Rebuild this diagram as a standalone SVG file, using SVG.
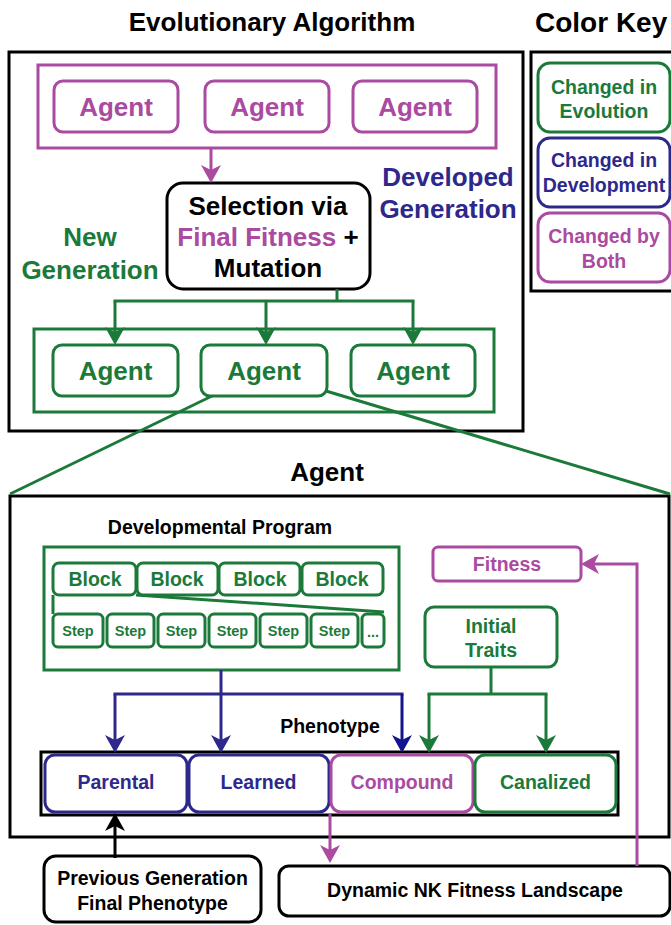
<svg xmlns="http://www.w3.org/2000/svg" width="671" height="925" viewBox="0 0 671 925">
<defs>
<style>
text{font-family:"Liberation Sans",Arial,sans-serif;font-weight:bold;text-anchor:middle}
.big{font-size:26px}
.sm{font-size:19.5px}
.st{font-size:14.5px}
.k{fill:#000}
.g{fill:#1b7a3a}
.p{fill:#2e288c}
.m{fill:#aa4aa0}
.bx{fill:#fff;stroke-width:3}
.sk{stroke:#000}
.sg{stroke:#1b7a3a}
.sp{stroke:#2e288c}
.sm2{stroke:#aa4aa0}
.ln{fill:none;stroke-width:3}
</style>
<marker id="aG" viewBox="0 0 18 20" refX="8" refY="10" markerWidth="18" markerHeight="20" markerUnits="userSpaceOnUse" orient="auto"><path d="M0,0 L18,10 L0,20 L5,10 z" fill="#1b7a3a"/></marker>
<marker id="aP" viewBox="0 0 18 20" refX="8" refY="10" markerWidth="18" markerHeight="20" markerUnits="userSpaceOnUse" orient="auto"><path d="M0,0 L18,10 L0,20 L5,10 z" fill="#2e288c"/></marker>
<marker id="aN" viewBox="0 0 18 20" refX="8" refY="10" markerWidth="18" markerHeight="20" markerUnits="userSpaceOnUse" orient="auto"><path d="M0,0 L18,10 L0,20 L5,10 z" fill="#14148c"/></marker>
<marker id="aM" viewBox="0 0 18 20" refX="8" refY="10" markerWidth="18" markerHeight="20" markerUnits="userSpaceOnUse" orient="auto"><path d="M0,0 L18,10 L0,20 L5,10 z" fill="#aa4aa0"/></marker>
<marker id="aK" viewBox="0 0 18 20" refX="8" refY="10" markerWidth="18" markerHeight="20" markerUnits="userSpaceOnUse" orient="auto"><path d="M0,0 L18,10 L0,20 L5,10 z" fill="#000"/></marker>
</defs>
<rect width="671" height="925" fill="#fff"/>

<text class="big k" x="272" y="31">Evolutionary Algorithm</text>
<text class="k" x="535" y="32" style="font-size:28px;text-anchor:start">Color Key</text>

<g id="ea-box"><rect class="bx sk" x="9" y="52" width="514" height="379"/></g>

<g id="color-key">
<rect class="bx sk" x="531" y="52" width="145" height="239"/>
<rect class="bx sg" x="538" y="63" width="132" height="69" rx="12"/>
<text class="sm g" x="604" y="94">Changed in</text>
<text class="sm g" x="604" y="118">Evolution</text>
<rect class="bx sp" x="538" y="138" width="132" height="69" rx="12"/>
<text class="sm p" x="604" y="167">Changed in</text>
<text class="sm p" x="604" y="192">Development</text>
<rect class="bx sm2" x="538" y="213" width="132" height="69" rx="12"/>
<text class="sm m" x="604" y="243">Changed by</text>
<text class="sm m" x="604" y="268">Both</text>
</g>

<g id="developed-generation">
<rect class="bx sm2" x="38" y="65" width="458" height="83"/>
<rect class="bx sm2" x="54" y="81" width="124" height="51" rx="9"/>
<text class="big m" x="116" y="116">Agent</text>
<rect class="bx sm2" x="205" y="81" width="124" height="51" rx="9"/>
<text class="big m" x="267" y="116">Agent</text>
<rect class="bx sm2" x="353" y="81" width="124" height="51" rx="9"/>
<text class="big m" x="415" y="116">Agent</text>
</g>
<text class="big p" x="448" y="186">Developed</text>
<text class="big p" x="448" y="218">Generation</text>
<text class="big g" x="90" y="246">New</text>
<text class="big g" x="90" y="279">Generation</text>

<g id="selection">
<rect class="bx sk" x="167" y="183" width="203" height="106" rx="16"/>
<text class="big k" x="268" y="215">Selection via</text>
<text class="big k" x="268" y="246"><tspan class="m">Final Fitness</tspan> +</text>
<text class="big k" x="268" y="277">Mutation</text>
</g>

<g id="new-generation">
<rect class="bx sg" x="34" y="329" width="460" height="83"/>
<rect class="bx sg" x="53" y="345" width="125" height="51" rx="9"/>
<text class="big g" x="115.5" y="380">Agent</text>
<rect class="bx sg" x="201" y="345" width="126" height="51" rx="9"/>
<text class="big g" x="264" y="380">Agent</text>
<rect class="bx sg" x="351" y="345" width="124" height="51" rx="9"/>
<text class="big g" x="413" y="380">Agent</text>
</g>

<text class="big k" x="327" y="481">Agent</text>

<g id="agent-box"><rect class="bx sk" x="10" y="496" width="659" height="341"/></g>

<g id="developmental-program">
<text class="sm k" x="220" y="534">Developmental Program</text>
<rect class="bx sg" x="44" y="547" width="355" height="123"/>
<rect class="bx sg" x="53" y="563" width="83" height="32" rx="6"/>
<text class="sm g" x="95" y="586">Block</text>
<rect class="bx sg" x="137" y="563" width="81" height="32" rx="6"/>
<text class="sm g" x="177" y="586">Block</text>
<rect class="bx sg" x="219" y="563" width="81" height="32" rx="6"/>
<text class="sm g" x="260" y="586">Block</text>
<rect class="bx sg" x="302" y="563" width="81" height="32" rx="6"/>
<text class="sm g" x="342" y="586">Block</text>
<path class="ln sg" d="M53,595 V614 M136,595 L384,612"/>
<rect class="bx sg" x="53" y="614" width="50" height="33" rx="5"/>
<text class="st g" x="78" y="636">Step</text>
<rect class="bx sg" x="107" y="614" width="47" height="33" rx="5"/>
<text class="st g" x="130.5" y="636">Step</text>
<rect class="bx sg" x="158" y="614" width="47" height="33" rx="5"/>
<text class="st g" x="181.5" y="636">Step</text>
<rect class="bx sg" x="209" y="614" width="47" height="33" rx="5"/>
<text class="st g" x="232.5" y="636">Step</text>
<rect class="bx sg" x="260" y="614" width="47" height="33" rx="5"/>
<text class="st g" x="283.5" y="636">Step</text>
<rect class="bx sg" x="311" y="614" width="47" height="33" rx="5"/>
<text class="st g" x="334.5" y="636">Step</text>
<rect class="bx sg" x="362" y="614" width="22" height="33" rx="5"/>
<text class="st g" x="373" y="637">...</text>
</g>

<g id="fitness">
<rect class="bx sm2" x="433" y="547" width="148" height="34" rx="5"/>
<text class="sm m" x="507" y="571">Fitness</text>
</g>

<g id="initial-traits">
<rect class="bx sg" x="425" y="607" width="132" height="60" rx="9"/>
<text class="sm g" x="491" y="633">Initial</text>
<text class="sm g" x="491" y="657">Traits</text>
</g>

<text class="sm k" x="330" y="733">Phenotype</text>

<g id="phenotype">
<rect class="bx sk" x="41" y="752" width="577" height="63"/>
<rect class="bx sp" x="45" y="755" width="142" height="57" rx="10"/>
<text class="sm p" x="116" y="789">Parental</text>
<rect class="bx sp" x="189" y="755" width="140" height="57" rx="10"/>
<text class="sm p" x="258.5" y="789">Learned</text>
<rect class="bx sm2" x="331" y="755" width="142" height="57" rx="10"/>
<text class="sm m" x="402" y="789">Compound</text>
<rect class="bx sg" x="475" y="755" width="141" height="57" rx="10"/>
<text class="sm g" x="545.5" y="789">Canalized</text>
</g>

<g id="previous-generation">
<rect class="bx sk" x="44" y="856" width="217" height="66" rx="12"/>
<text class="sm k" x="152.5" y="885">Previous Generation</text>
<text class="sm k" x="152.5" y="910">Final Phenotype</text>
</g>

<g id="nk-landscape">
<rect class="bx sk" x="279" y="866" width="391" height="50" rx="10"/>
<text class="sm k" x="475" y="897">Dynamic NK Fitness Landscape</text>
</g>

<g id="connectors">
<path class="ln sm2" d="M211,148 V173" marker-end="url(#aM)"/>
<path class="ln sg" d="M337,289 V301 M113.5,301 H414.5"/>
<path class="ln sg" d="M115,301 V335" marker-end="url(#aG)"/>
<path class="ln sg" d="M266,301 V335" marker-end="url(#aG)"/>
<path class="ln sg" d="M413,301 V335" marker-end="url(#aG)"/>
<path class="ln sg" d="M212,396 L10,494 M326,391 L670,494"/>
<path class="ln sp" d="M221,670 V694 M113.5,694 H403.5"/>
<path class="ln sp" d="M115,694 V743" marker-end="url(#aP)"/>
<path class="ln sp" d="M221,694 V743" marker-end="url(#aP)"/>
<path class="ln" stroke="#14148c" d="M402,694 V743" marker-end="url(#aN)"/>
<path class="ln sg" d="M491,667 V694 M427.5,694 H547.5"/>
<path class="ln sg" d="M429,694 V743" marker-end="url(#aG)"/>
<path class="ln sg" d="M546,694 V743" marker-end="url(#aG)"/>
<path class="ln sm2" d="M637,866 V564 H591" marker-end="url(#aM)"/>
<path class="ln sm2" d="M330,813 V853" marker-end="url(#aM)"/>
<path class="ln sk" d="M115,858 V823" marker-end="url(#aK)"/>
</g>
</svg>
